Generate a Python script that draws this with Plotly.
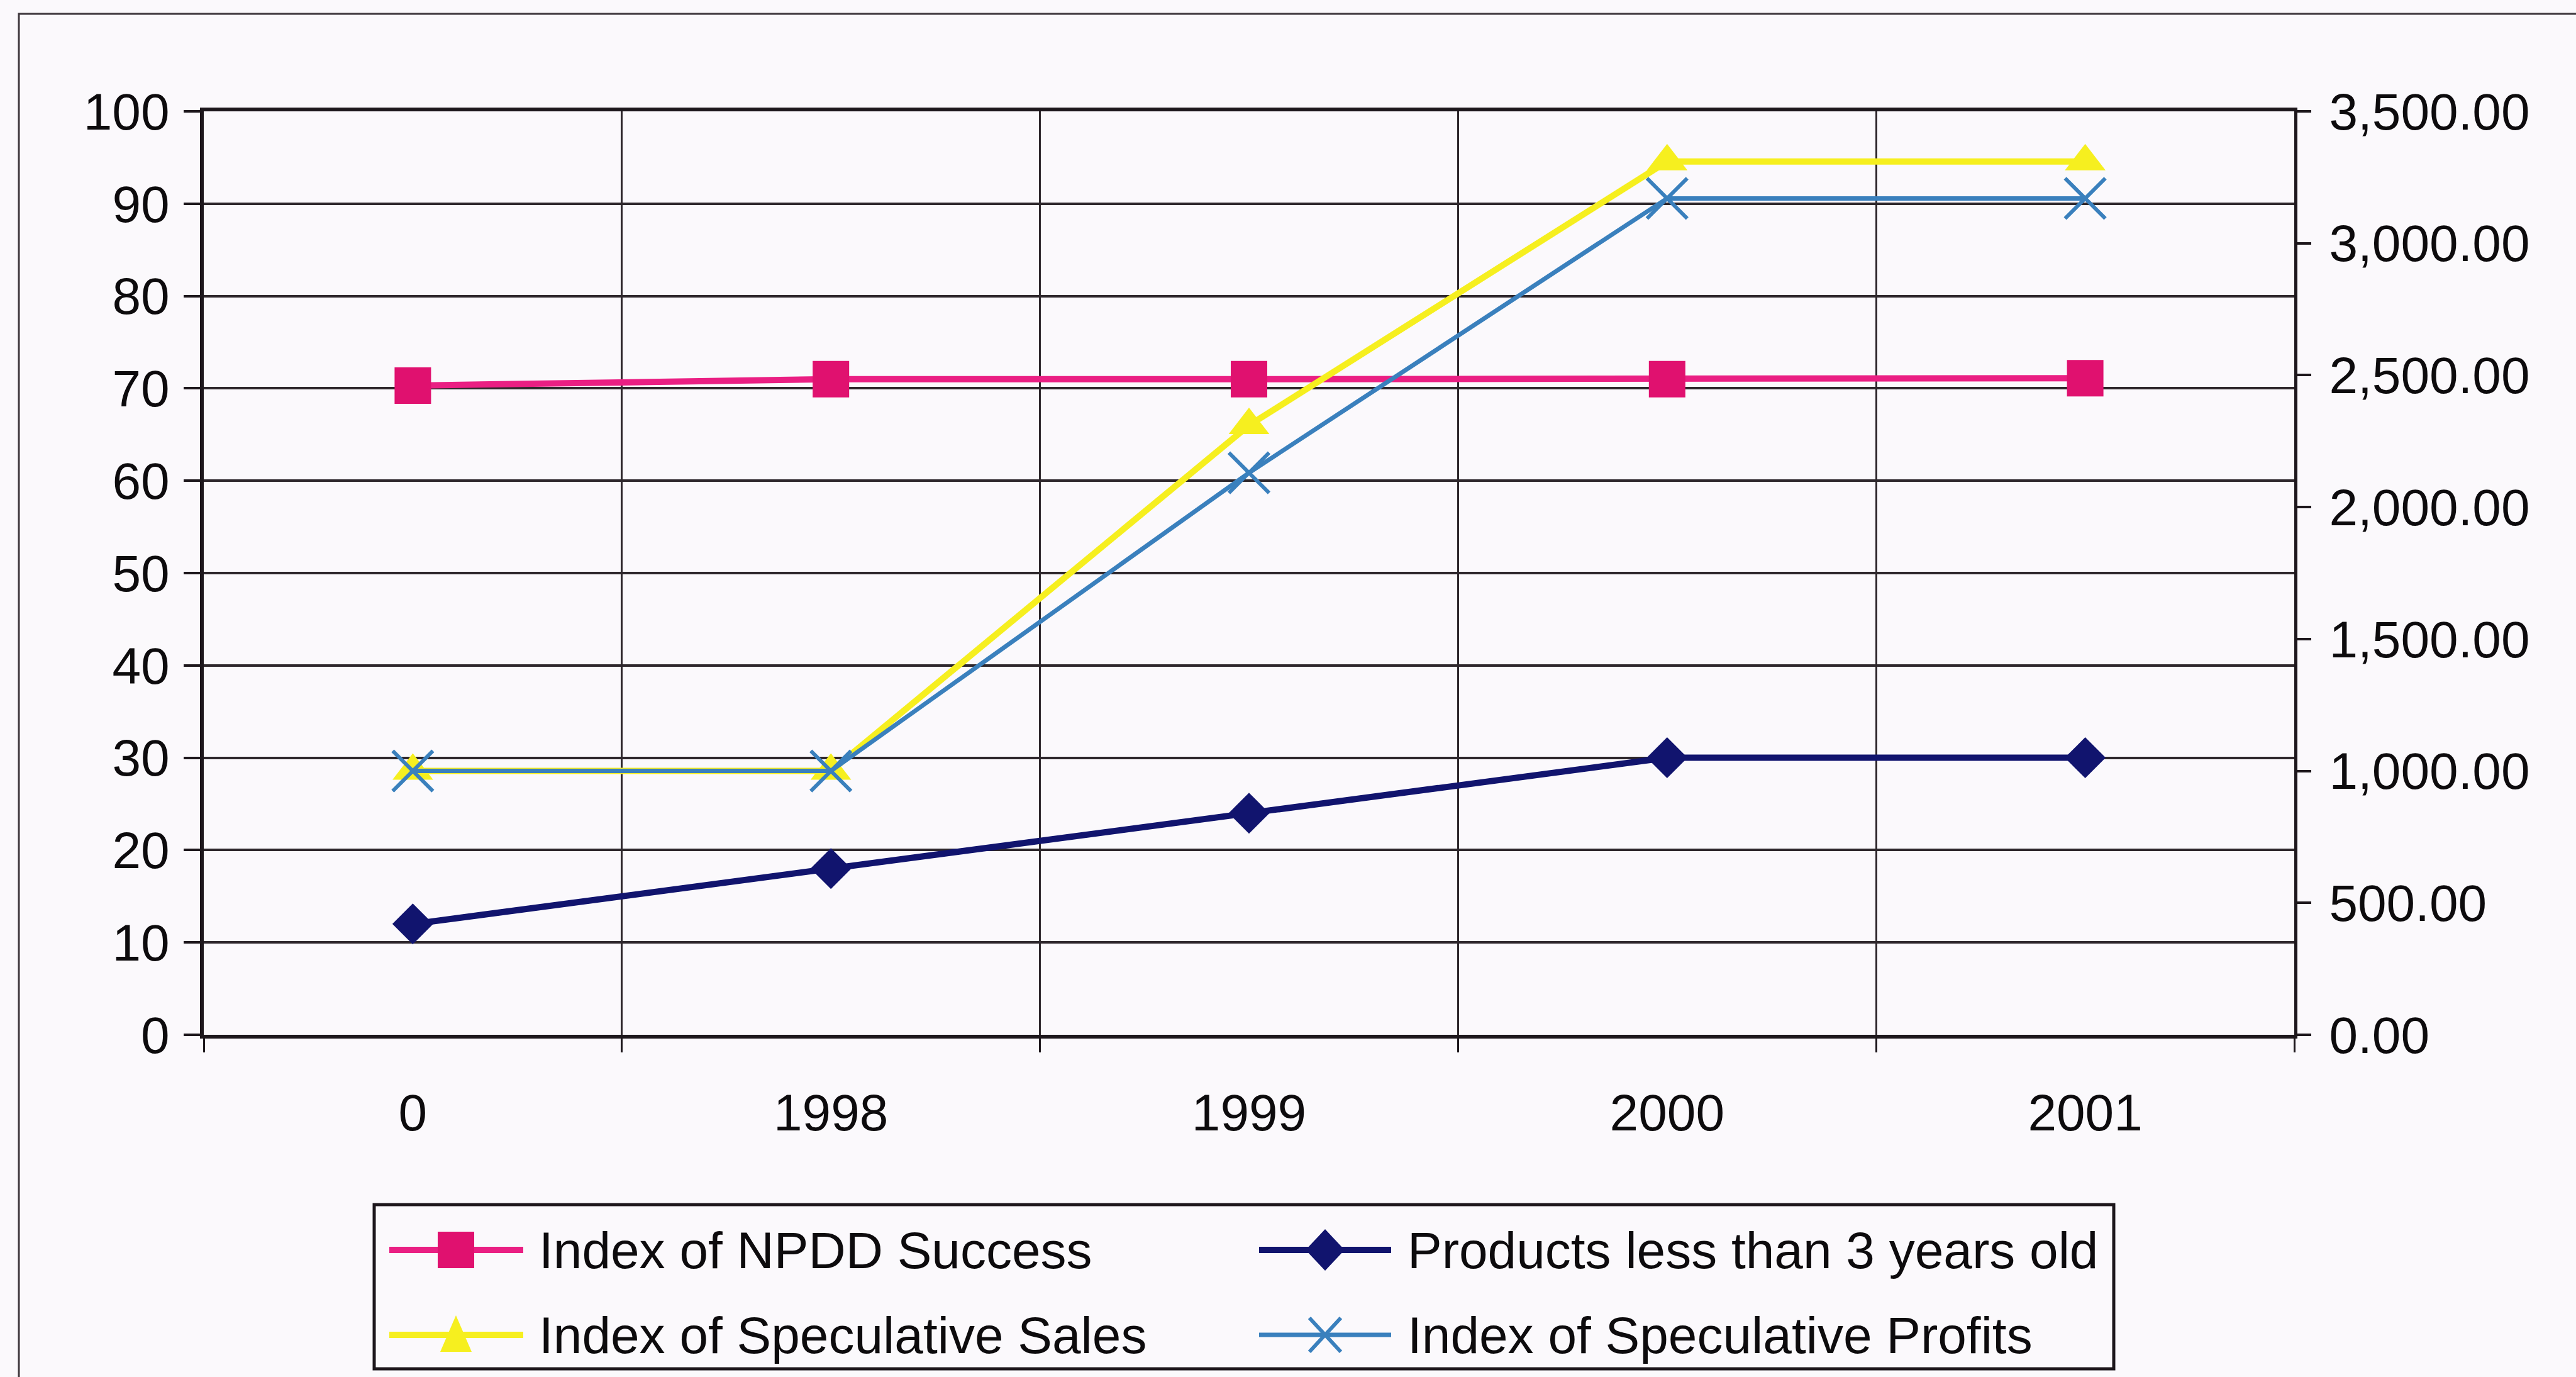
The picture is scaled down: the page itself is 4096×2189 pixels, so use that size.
import plotly.graph_objects as go

# ---- data -------------------------------------------------------------
years = ["0", "1998", "1999", "2000", "2001"]
npdd_success = [70.3, 71.0, 71.0, 71.0, 71.1]          # left axis
products_under_3 = [12, 18, 24, 30, 30]                # left axis
spec_sales = [1000, 1000, 2310, 3310, 3310]            # right axis
spec_profits = [1000, 1000, 2130, 3170, 3170]          # right axis

names = [
    "Index of NPDD Success",
    "Products less than 3 years old",
    "Index of Speculative Sales",
    "Index of Speculative Profits",
]

# ---- styling ----------------------------------------------------------
W, H = 4096, 2189
L, R, T, B = 324, 448, 177, 544
PW, PH = W - L - R, H - T - B

FONT = "Liberation Sans, Arial, sans-serif"
TEXT = "#0d0b0d"
BG = "#fbf9fc"
GRID = "#2e272c"
AXIS = "#1d171c"

PINK, PINK_MK = "#ea1f83", "#e0116f"
NAVY = "#11146e"
YELLOW = "#f6ef1f"
BLUE = "#3a80bd"

LW_MAIN = 10
LW_BLUE = 7


def px2x(px):
    return (px - L) / PW


def px2y(py):
    return 1 - (py - T) / PH


fig = go.Figure()

fig.add_trace(go.Scatter(
    x=years, y=npdd_success, name=names[0], mode="lines+markers",
    line=dict(color=PINK, width=LW_MAIN),
    marker=dict(symbol="square", size=58, color=PINK_MK),
))
fig.add_trace(go.Scatter(
    x=years, y=products_under_3, name=names[1], mode="lines+markers",
    line=dict(color=NAVY, width=LW_MAIN),
    marker=dict(symbol="diamond", size=50, color=NAVY),
))
fig.add_trace(go.Scatter(
    x=years, y=spec_sales, name=names[2], mode="lines+markers", yaxis="y2",
    line=dict(color=YELLOW, width=LW_MAIN),
    marker=dict(symbol="triangle-up", size=56, color=YELLOW),
))
fig.add_trace(go.Scatter(
    x=years, y=spec_profits, name=names[3], mode="lines+markers", yaxis="y2",
    line=dict(color=BLUE, width=LW_BLUE),
    marker=dict(symbol="x-thin", size=64, color=BLUE,
                line=dict(color=BLUE, width=6)),
))

# ---- hand-built legend box -------------------------------------------
shapes = []
annotations = []

# outer chart frame (only left and top edges fall inside the page)
shapes.append(dict(type="rect", xref="paper", yref="paper",
                   x0=px2x(30), x1=px2x(W + 200), y0=px2y(22), y1=px2y(H + 200),
                   line=dict(color="#3e373c", width=3), layer="below"))

# legend frame
shapes.append(dict(type="rect", xref="paper", yref="paper",
                   x0=px2x(595), x1=px2x(3361), y0=px2y(1915), y1=px2y(2176),
                   line=dict(color=AXIS, width=5)))

rows = [1987, 2122]
cols = [(619, 832, 725, 855), (2002, 2212, 2107, 2236)]

glyphs = [
    dict(path="M -29 -29 L 29 -29 L 29 29 L -29 29 Z", fill=PINK_MK, color=PINK, lw=LW_MAIN),
    dict(path="M -31 0 L 0 33 L 31 0 L 0 -33 Z", fill=NAVY, color=NAVY, lw=LW_MAIN),
    dict(path="M -25 -27 L 25 -27 L 0 31 Z", fill=YELLOW, color=YELLOW, lw=LW_MAIN),
    dict(path="M -25 -27 L 25 27 M -25 27 L 25 -27", fill=None, color=BLUE, lw=LW_BLUE),
]
slots = [(0, 0), (0, 1), (1, 0), (1, 1)]

for name, g, (r, c) in zip(names, glyphs, slots):
    y = rows[r]
    x0, x1, xm, xt = cols[c]
    shapes.append(dict(type="line", xref="paper", yref="paper",
                       x0=px2x(x0), x1=px2x(x1), y0=px2y(y), y1=px2y(y),
                       line=dict(color=g["color"], width=g["lw"])))
    if g["fill"] is None:
        shapes.append(dict(type="path", xref="paper", yref="paper",
                           xsizemode="pixel", ysizemode="pixel",
                           xanchor=px2x(xm), yanchor=px2y(y), path=g["path"],
                           line=dict(color=g["color"], width=6)))
    else:
        shapes.append(dict(type="path", xref="paper", yref="paper",
                           xsizemode="pixel", ysizemode="pixel",
                           xanchor=px2x(xm), yanchor=px2y(y), path=g["path"],
                           fillcolor=g["fill"], line=dict(width=0)))
    annotations.append(dict(xref="paper", yref="paper", x=px2x(xt), y=px2y(y),
                            xanchor="left", yanchor="middle", showarrow=False,
                            text=name, font=dict(size=82, color=TEXT, family=FONT)))

fig.update_layout(
    width=W, height=H,
    margin=dict(l=L, r=R, t=T, b=B, pad=0),
    paper_bgcolor=BG, plot_bgcolor=BG,
    font=dict(family=FONT, size=82, color=TEXT),
    showlegend=False,
    xaxis=dict(
        type="category", range=[-0.5, 4.5], tickson="boundaries",
        showgrid=True, gridcolor=GRID, gridwidth=3,
        ticks="outside", ticklen=22, tickwidth=3, tickcolor=AXIS,
        showline=True, linecolor=AXIS, linewidth=6, mirror=True,
        zeroline=False, ticklabelstandoff=48,
    ),
    yaxis=dict(
        range=[0, 100], tick0=0, dtick=10,
        showgrid=True, gridcolor=GRID, gridwidth=4,
        ticks="outside", ticklen=26, tickwidth=4, tickcolor=AXIS,
        showline=True, linecolor=AXIS, linewidth=6,
        zeroline=False, ticklabelstandoff=6,
    ),
    yaxis2=dict(
        overlaying="y", side="right", range=[0, 3500], tick0=0, dtick=500,
        tickformat=",.2f", showgrid=False,
        ticks="outside", ticklen=22, tickwidth=4, tickcolor=AXIS,
        showline=True, linecolor=AXIS, linewidth=5,
        zeroline=False, ticklabelstandoff=12,
    ),
    shapes=shapes,
    annotations=annotations,
)

fig.write_html("out.html")
